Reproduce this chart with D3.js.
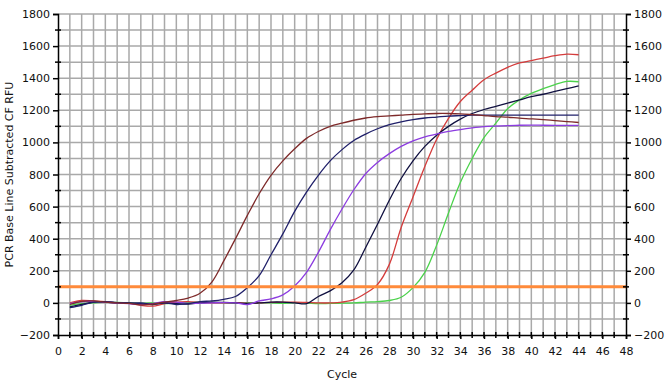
<!DOCTYPE html>
<html>
<head>
<meta charset="utf-8">
<script src="https://cdn.jsdelivr.net/npm/d3@7"></script>
<style>
  body { margin: 0; background: #fff; }
  text { font-family: "DejaVu Sans", Verdana, sans-serif; font-size: 11px; fill: #111; }
</style>
</head>
<body>
<script>
// cycle numbers
const cycles = d3.range(1, 45);

// RFU values, one per cycle (1..44)
const brown = [-10, 10, 12, 5, 0, -3, -12, -8, 5, 15, 30, 60, 130, 260, 400, 545, 680, 795, 885, 960,
  1025, 1068, 1100, 1120, 1138, 1152, 1160, 1165, 1170, 1175, 1178, 1180, 1180, 1178, 1173, 1167, 1161, 1157, 1151, 1147,
  1142, 1136, 1130, 1124];
const navy1 = [-30, -15, 5, 8, 2, -2, 0, -8, 0, -10, -5, 8, 12, 22, 40, 95, 170, 300, 430, 570,
  690, 795, 885, 955, 1012, 1052, 1085, 1110, 1128, 1142, 1152, 1158, 1164, 1167, 1170, 1170, 1170, 1170, 1170, 1170,
  1170, 1170, 1170, 1170];
const purple = [-5, 8, 10, 5, 0, -5, -10, -5, 8, 5, -3, -2, 0, 2, 0, -10, 12, 25, 50, 105,
  190, 315, 455, 585, 705, 805, 875, 930, 975, 1010, 1035, 1052, 1068, 1080, 1090, 1098, 1102, 1105, 1107, 1108,
  1107, 1106, 1106, 1106];
const navy2 = [-25, -10, 5, 5, 0, 0, -5, -10, 0, -5, -8, 0, 5, 3, 0, -3, 0, 5, 5, 0,
  -5, 40, 75, 125, 205, 345, 490, 640, 775, 885, 975, 1045, 1100, 1145, 1180, 1205, 1225, 1245, 1265, 1285,
  1300, 1318, 1335, 1352];
const red = [0, 15, 12, 8, 0, -3, -15, -20, -5, 5, 8, 3, 0, 0, 2, -3, 0, 3, 5, 5,
  3, 0, 0, 5, 20, 60, 115, 240, 470, 660, 850, 1020, 1150, 1255, 1325, 1390, 1432, 1468, 1495, 1510,
  1525, 1540, 1550, 1546];
const green = [-15, -5, 0, 5, 3, 0, -3, 0, -5, 0, 2, 5, 3, 0, -3, 0, 2, 0, -3, 2,
  0, -5, -3, -2, 0, 5, 8, 15, 35, 95, 190, 360, 560, 750, 900, 1030, 1120, 1210, 1265, 1305,
  1335, 1360, 1380, 1378];

const series = [
  {name: "green", color: "#4bd24b", values: green},
  {name: "red", color: "#d43c3c", values: red},
  {name: "navy2", color: "#101040", values: navy2},
  {name: "purple", color: "#8c3ce0", values: purple},
  {name: "navy1", color: "#20206a", values: navy1},
  {name: "brown", color: "#7e2a2a", values: brown}
];

const threshold = 100;
const xTicks = d3.range(0, 49, 2);
const yTicks = d3.range(-200, 1801, 200);

const width = 669;
const height = 387;
const margin = {top: 14, right: 43, bottom: 52, left: 58};

const svg = d3.select("body")
  .append("svg")
  .attr("width", width)
  .attr("height", height);

const x = d3.scaleLinear()
  .domain([0, 48])
  .range([margin.left, width - margin.right]);

const y = d3.scaleLinear()
  .domain([-200, 1800])
  .range([height - margin.bottom, margin.top]);

// grid
svg.append("g")
  .selectAll("line")
  .data(d3.range(1, 48))
  .enter()
  .append("line")
  .attr("x1", d => x(d))
  .attr("x2", d => x(d))
  .attr("y1", y(-200))
  .attr("y2", y(1800))
  .attr("stroke", "#a9a9a9")
  .attr("stroke-width", 1.5);

svg.append("g")
  .selectAll("line")
  .data(d3.range(-100, 1801, 100))
  .enter()
  .append("line")
  .attr("x1", x(0))
  .attr("x2", x(48))
  .attr("y1", d => y(d))
  .attr("y2", d => y(d))
  .attr("stroke", "#a9a9a9")
  .attr("stroke-width", 1.5);

// curves
const line = d3.line()
  .x((d, i) => x(cycles[i]))
  .y(d => y(d))
  .curve(d3.curveCatmullRom.alpha(0.5));

svg.append("g")
  .selectAll("path")
  .data(series)
  .enter()
  .append("path")
  .attr("d", d => line(d.values))
  .attr("fill", "none")
  .attr("stroke", d => d.color)
  .attr("stroke-width", 1.3);

// threshold
svg.append("line")
  .attr("x1", x(0))
  .attr("x2", x(48))
  .attr("y1", y(threshold))
  .attr("y2", y(threshold))
  .attr("stroke", "#ff8a3a")
  .attr("stroke-width", 3);

// axes
const fmt = d3.format("d");
const leftAxis = d3.axisLeft(y).tickValues(yTicks).tickFormat(fmt).tickSize(5).tickPadding(3);
const rightAxis = d3.axisRight(y).tickValues(yTicks).tickFormat(fmt).tickSize(5).tickPadding(3);
const bottomAxis = d3.axisBottom(x).tickValues(xTicks).tickFormat(fmt).tickSize(4).tickPadding(8);

function styleAxis(g) {
  g.select(".domain").attr("stroke", "#000").attr("stroke-width", 1.5);
  g.selectAll(".tick line").attr("stroke", "#000").attr("stroke-width", 1.5);
  g.selectAll("text").attr("font-size", 11).attr("font-family", "DejaVu Sans").attr("fill", "#111");
}

svg.append("g")
  .attr("transform", `translate(${x(0)},0)`)
  .call(leftAxis)
  .call(styleAxis);

svg.append("g")
  .attr("transform", `translate(${x(48)},0)`)
  .call(rightAxis)
  .call(styleAxis);

svg.append("g")
  .attr("transform", `translate(0,${y(-200)})`)
  .call(bottomAxis)
  .call(styleAxis);

// minor ticks crossing the axes
const minorY = d3.range(-100, 1800, 200);
svg.append("g")
  .selectAll("line")
  .data(minorY)
  .enter()
  .append("line")
  .attr("x1", x(0) - 3)
  .attr("x2", x(0) + 3)
  .attr("y1", d => y(d))
  .attr("y2", d => y(d))
  .attr("stroke", "#000")
  .attr("stroke-width", 1.5);

svg.append("g")
  .selectAll("line")
  .data(minorY)
  .enter()
  .append("line")
  .attr("x1", x(48) - 3)
  .attr("x2", x(48) + 3)
  .attr("y1", d => y(d))
  .attr("y2", d => y(d))
  .attr("stroke", "#000")
  .attr("stroke-width", 1.5);

svg.append("g")
  .selectAll("line")
  .data(d3.range(1, 48))
  .enter()
  .append("line")
  .attr("x1", d => x(d))
  .attr("x2", d => x(d))
  .attr("y1", y(-200) - 3)
  .attr("y2", y(-200) + 3)
  .attr("stroke", "#000")
  .attr("stroke-width", 1.5);

// axis titles
svg.append("text")
  .attr("x", (x(0) + x(48)) / 2)
  .attr("y", 378)
  .attr("text-anchor", "middle")
  .text("Cycle");

svg.append("text")
  .attr("transform", `translate(13,${(y(-200) + y(1800)) / 2}) rotate(-90)`)
  .attr("text-anchor", "middle")
  .text("PCR Base Line Subtracted CF RFU");
</script>
</body>
</html>
